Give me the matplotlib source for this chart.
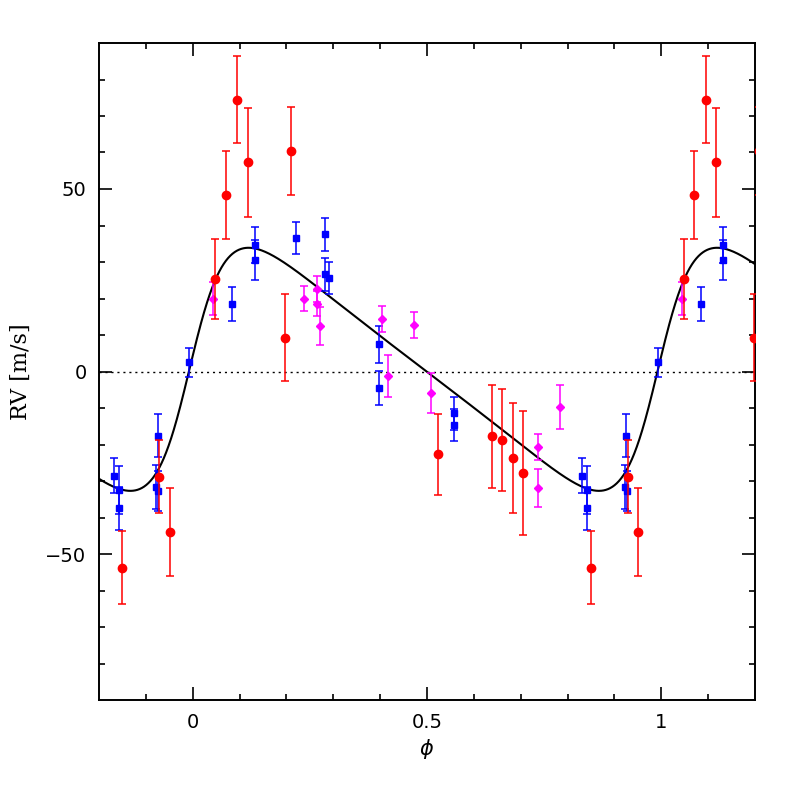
import numpy as np
import matplotlib
matplotlib.use("Agg")
import matplotlib.pyplot as plt

# red circles: phase, RV, error
red_phase = [0.048, 0.070, 0.095, 0.117, 0.197, 0.209, 0.524, 0.639, 0.660, 0.684, 0.705, 0.849, 0.928, 0.951]
red_rv = [25.4, 48.4, 74.5, 57.3, 9.3, 60.4, -22.7, -17.8, -18.7, -23.7, -27.7, -53.8, -28.8, -43.9]
red_err = [11, 12, 12, 15, 12, 12, 11, 14, 14, 15, 17, 10, 10, 12]

# blue squares
blue_phase = [0.992, 0.084, 0.132, 0.132, 0.221, 0.283, 0.283, 0.290, 0.397, 0.397,
              0.558, 0.558, 0.831, 0.842, 0.842, 0.925, 0.922, 0.926]
blue_rv = [2.5, 18.5, 34.6, 30.6, 36.6, 37.6, 26.6, 25.6, 7.5, -4.5,
           -11.5, -14.6, -28.5, -32.5, -37.5, -17.6, -31.6, -32.7]
blue_err = [4.0, 4.7, 5.0, 5.4, 4.4, 4.5, 4.6, 4.5, 5.1, 4.6,
            4.6, 4.4, 4.7, 6.5, 5.8, 5.9, 6.0, 5.5]

# magenta diamonds
mag_phase = [0.0435, 0.238, 0.266, 0.266, 0.272, 0.405, 0.416, 0.473, 0.509, 0.737, 0.737, 0.783]
mag_rv = [20.0, 20.0, 22.7, 18.6, 12.5, 14.3, -1.2, 12.7, -5.9, -20.6, -31.9, -9.8]
mag_err = [4.6, 3.4, 3.6, 3.5, 5.2, 3.6, 5.7, 3.6, 5.5, 3.6, 5.1, 6.0]

# orbit fit (phase units)
K = 33.3
ecc = 0.40
omega = np.radians(270.0)
t_peri = 0.993
gamma = 0.6

x_min, x_max = -0.2, 1.2


def kepler_rv(ph):
    M = 2 * np.pi * (ph - t_peri)
    E = M.copy()
    for i in range(50):
        E = E - (E - ecc * np.sin(E) - M) / (1 - ecc * np.cos(E))
    nu = 2 * np.arctan(np.sqrt((1 + ecc) / (1 - ecc)) * np.tan(E / 2))
    return gamma + K * (np.cos(nu + omega) + ecc * np.cos(omega))


def wrap(ph, rv, err):
    ph = np.array(ph)
    rv = np.array(rv)
    err = np.array(err)
    xs, ys, es = [], [], []
    for shift in (-1, 0, 1):
        p = ph + shift
        keep = (p >= x_min - 0.01) & (p <= x_max + 0.01)
        xs.append(p[keep])
        ys.append(rv[keep])
        es.append(err[keep])
    return np.concatenate(xs), np.concatenate(ys), np.concatenate(es)


fig = plt.figure(figsize=(7.97, 7.97), dpi=100)
ax = fig.add_axes([99 / 797, 1 - 700 / 797, 656 / 797, 657 / 797])

ax.axhline(0, color="black", lw=1.0, linestyle=(0, (1.5, 2.8)), zorder=1)

phase_grid = np.linspace(x_min, x_max, 1500)
ax.plot(phase_grid, kepler_rv(phase_grid), color="black", lw=1.5, zorder=2)

x, y, e = wrap(blue_phase, blue_rv, blue_err)
ax.errorbar(x, y, yerr=e, fmt="s", color="blue", ms=4.2, lw=1.1, capsize=3, capthick=1.1, zorder=3)
x, y, e = wrap(mag_phase, mag_rv, mag_err)
ax.errorbar(x, y, yerr=e, fmt="D", color="magenta", ms=3.6, lw=1.1, capsize=3, capthick=1.1, zorder=3)
x, y, e = wrap(red_phase, red_rv, red_err)
ax.errorbar(x, y, yerr=e, fmt="o", color="red", ms=6, lw=1.1, capsize=3, capthick=1.1, zorder=4)

ax.set_xlim(x_min, x_max)
ax.set_ylim(-90, 90)

ax.set_xticks([0, 0.5, 1])
ax.set_xticklabels(["0", "0.5", "1"])
ax.set_xticks(np.arange(-0.1, 1.2, 0.1), minor=True)
ax.set_yticks([-50, 0, 50])
ax.set_yticklabels(["\u221250", "0", "50"])
ax.set_yticks(np.arange(-80, 90, 10), minor=True)

ax.tick_params(axis="both", which="both", direction="in", top=True, right=True, width=1.2, labelsize=14, pad=9)
ax.tick_params(axis="both", which="major", length=9.5)
ax.tick_params(axis="both", which="minor", length=4.6)
for sp in ax.spines.values():
    sp.set_linewidth(1.4)

ax.set_xlabel(r"$\phi$", fontsize=15, labelpad=4)
ax.set_ylabel("RV [m/s]", fontsize=16, family="DejaVu Serif", labelpad=10)

fig.savefig("out.png", dpi=100)
